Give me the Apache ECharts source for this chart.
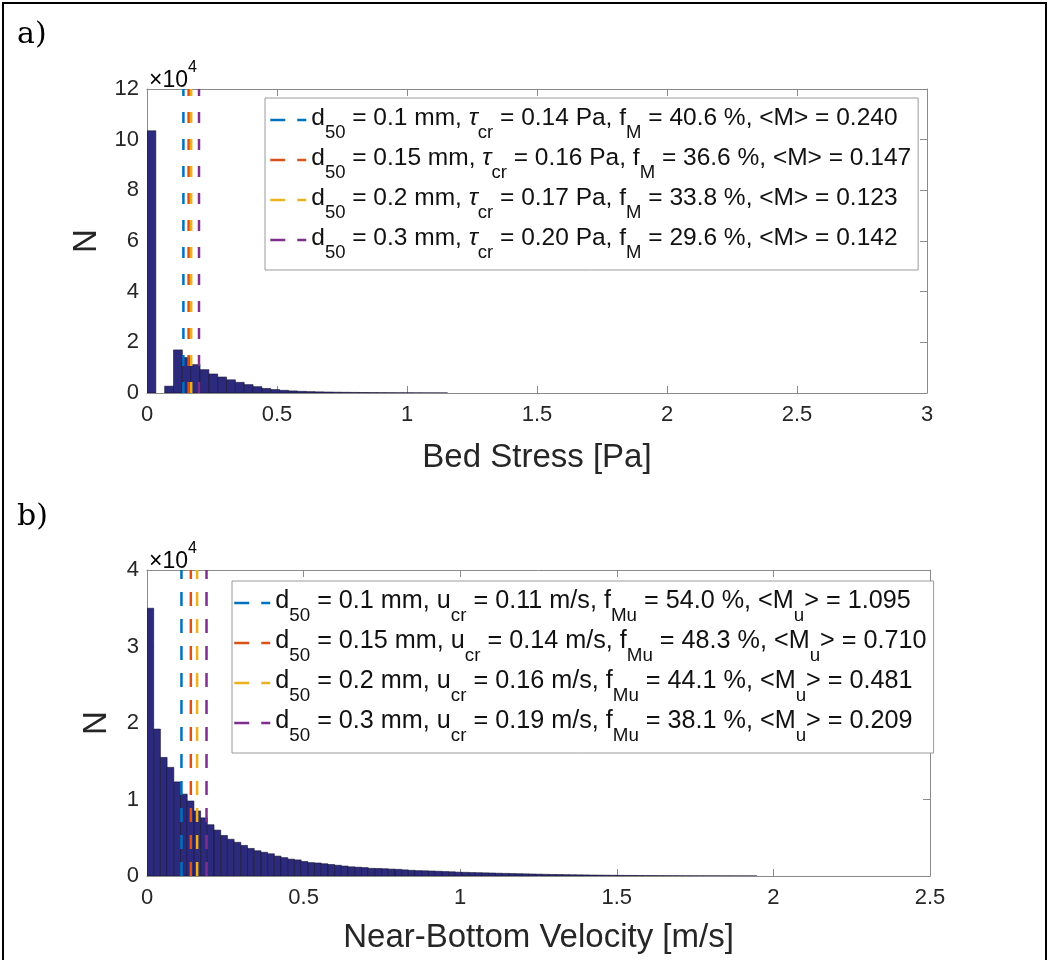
<!DOCTYPE html>
<html>
<head>
<meta charset="utf-8">
<script src="https://cdn.jsdelivr.net/npm/echarts@6/dist/echarts.min.js"></script>
<style>
html,body{margin:0;padding:0;background:#fff;}
#chart{width:1049px;height:960px;}
</style>
</head>
<body>
<div id="chart"></div>
<script>
// ---------------- data ----------------
// a) Bed stress histogram (bin width in Pa, counts per bin starting at 0 Pa)
const stressBinWidth = 0.034;
const stressCounts = [103500, 0, 2700, 17000, 14000, 11200, 9200, 7500, 6300, 5200,
  4200, 3300, 2500, 1800, 1350, 1050, 820, 660, 540, 450,
  380, 320, 270, 230, 190, 160, 130, 110, 90, 75,
  60, 50, 40, 30];
// b) Near-bottom velocity histogram (bin width in m/s, counts per bin starting at 0 m/s)
const velBinWidth = 0.0214;
const velCounts = [35000, 19200, 15500, 14200, 12300, 10700, 9800, 8500, 7600, 6700,
  6000, 5300, 4800, 4400, 4000, 3600, 3300, 3100, 2900, 2600,
  2400, 2200, 2100, 1900, 1750, 1700, 1600, 1500, 1400, 1300,
  1200, 1150, 1100, 1000, 980, 950, 900, 870, 800, 740,
  700, 680, 650, 620, 580, 550, 500, 480, 450, 430,
  410, 390, 360, 340, 320, 300, 280, 260, 240, 220,
  200, 190, 175, 160, 150, 140, 125, 115, 105, 95,
  85, 78, 70, 62, 55, 50, 45, 40, 36, 32,
  28, 25, 22, 20, 18, 16, 14, 12, 10, 9, 8];

// critical thresholds (vertical dashed lines)
const stressThresholds = [0.14, 0.16, 0.17, 0.20];
const velThresholds = [0.11, 0.14, 0.16, 0.19];

// legend entries
const stressLegendNames = [
  'd50 = 0.1 mm, τcr = 0.14 Pa, fM = 40.6 %, <M> = 0.240',
  'd50 = 0.15 mm, τcr = 0.16 Pa, fM = 36.6 %, <M> = 0.147',
  'd50 = 0.2 mm, τcr = 0.17 Pa, fM = 33.8 %, <M> = 0.123',
  'd50 = 0.3 mm, τcr = 0.20 Pa, fM = 29.6 %, <M> = 0.142'
];
const stressLegendRich = [
  '{n|d}{s|50}{n| = 0.1 mm, }{i|τ}{s|cr}{n| = 0.14 Pa, f}{s|M}{n| = 40.6 %, <M> = 0.240}',
  '{n|d}{s|50}{n| = 0.15 mm, }{i|τ}{s|cr}{n| = 0.16 Pa, f}{s|M}{n| = 36.6 %, <M> = 0.147}',
  '{n|d}{s|50}{n| = 0.2 mm, }{i|τ}{s|cr}{n| = 0.17 Pa, f}{s|M}{n| = 33.8 %, <M> = 0.123}',
  '{n|d}{s|50}{n| = 0.3 mm, }{i|τ}{s|cr}{n| = 0.20 Pa, f}{s|M}{n| = 29.6 %, <M> = 0.142}'
];
const velLegendNames = [
  'd50 = 0.1 mm, ucr = 0.11 m/s, fMu = 54.0 %, <Mu> = 1.095',
  'd50 = 0.15 mm, ucr = 0.14 m/s, fMu = 48.3 %, <Mu> = 0.710',
  'd50 = 0.2 mm, ucr = 0.16 m/s, fMu = 44.1 %, <Mu> = 0.481',
  'd50 = 0.3 mm, ucr = 0.19 m/s, fMu = 38.1 %, <Mu> = 0.209'
];
const velLegendRich = [
  '{n|d}{s|50}{n| = 0.1 mm, u}{s|cr}{n| = 0.11 m/s, f}{s|Mu}{n| = 54.0 %, <M}{s|u}{n|> = 1.095}',
  '{n|d}{s|50}{n| = 0.15 mm, u}{s|cr}{n| = 0.14 m/s, f}{s|Mu}{n| = 48.3 %, <M}{s|u}{n|> = 0.710}',
  '{n|d}{s|50}{n| = 0.2 mm, u}{s|cr}{n| = 0.16 m/s, f}{s|Mu}{n| = 44.1 %, <M}{s|u}{n|> = 0.481}',
  '{n|d}{s|50}{n| = 0.3 mm, u}{s|cr}{n| = 0.19 m/s, f}{s|Mu}{n| = 38.1 %, <M}{s|u}{n|> = 0.209}'
];

// axes
const stressXMin = 0, stressXMax = 3, stressXStep = 0.5;
const stressYMin = 0, stressYMax = 120000, stressYStep = 20000;
const velXMin = 0, velXMax = 2.5, velXStep = 0.5;
const velYMin = 0, velYMax = 40000, velYStep = 10000;

// ---------------- styles ----------------
const FONT = 'Liberation Sans, Arial, Helvetica, sans-serif';
const lineColors = ['#0072BD', '#D95319', '#EDB120', '#7E2F8E'];
const barFill = '#2c2a7c';
const axisGray = '#8a8a8a';
const labelColor = '#262626';

function makeRich(size, subSize) {
  return {
    n: {fontSize: size, fontFamily: FONT, color: '#111', lineHeight: 28, verticalAlign: 'top'},
    i: {fontSize: size, fontFamily: FONT, color: '#111', lineHeight: 28, verticalAlign: 'top', fontStyle: 'italic'},
    s: {fontSize: subSize, fontFamily: FONT, color: '#111', lineHeight: 18, padding: [17, 0, 0, 0], verticalAlign: 'top'}
  };
}

function histItem(params, api) {
  const x0 = api.value(0), x1 = api.value(1), y = api.value(2);
  const p0 = api.coord([x0, y]);
  const p1 = api.coord([x1, 0]);
  return {
    type: 'rect',
    shape: {x: p0[0], y: p0[1], width: p1[0] - p0[0], height: p1[1] - p0[1]},
    style: {fill: barFill, stroke: '#141230', lineWidth: 0.6}
  };
}

function binData(counts, width) {
  const out = [];
  counts.forEach((c, i) => { if (c > 0) out.push([i * width, (i + 1) * width, c]); });
  return out;
}

function xAxis(grid, pos, min, max, step, name, showLabel, gap) {
  return {
    type: 'value', gridIndex: grid, position: pos, min: min, max: max, interval: step,
    name: showLabel ? name : '', nameLocation: 'middle', nameGap: gap || 48,
    nameTextStyle: {fontSize: 33, fontFamily: FONT, color: labelColor},
    axisLine: {show: true, onZero: false, lineStyle: {color: axisGray, width: 1}},
    axisTick: {show: true, inside: true, length: 7, lineStyle: {color: axisGray}},
    axisLabel: {show: showLabel, fontSize: 22, fontFamily: FONT, color: labelColor, margin: 11},
    splitLine: {show: false}
  };
}
function yAxis(grid, pos, min, max, step, name, showLabel) {
  return {
    type: 'value', gridIndex: grid, position: pos, min: min, max: max, interval: step,
    name: showLabel ? name : '', nameLocation: 'middle', nameGap: 34, nameRotate: 90,
    nameTextStyle: {fontSize: 33, fontFamily: FONT, color: labelColor},
    axisLine: {show: true, onZero: false, lineStyle: {color: axisGray, width: 1}},
    axisTick: {show: true, inside: true, length: 7, lineStyle: {color: axisGray}},
    axisLabel: {show: showLabel, fontSize: 22, fontFamily: FONT, color: labelColor, margin: 8,
      formatter: v => String(Math.round(v / 10000))},
    splitLine: {show: false}
  };
}

function thresholdSeries(values, names, xIdx, yIdx, yMax, dash) {
  return values.map((t, k) => ({
    type: 'line', name: names[k], xAxisIndex: xIdx, yAxisIndex: yIdx,
    data: [[t, 0], [t, yMax]], symbol: 'none', z: 5, silent: true,
    color: lineColors[k], itemStyle: {color: lineColors[k]},
    lineStyle: {color: lineColors[k], width: 2.5, type: dash}
  }));
}

function legend(names, richTexts, left, top, padding, size, subSize) {
  return {
    orient: 'vertical', left: left, top: top, data: names,
    itemWidth: 36, itemHeight: 14, itemGap: 4, padding: padding,
    borderColor: '#9a9a9a', borderWidth: 1, backgroundColor: '#fff',
    selectedMode: false, z: 10,
    itemStyle: {opacity: 0},
    lineStyle: {type: [15, 12], width: 2.5},
    formatter: name => richTexts[names.indexOf(name)],
    textStyle: {rich: makeRich(size, subSize)}
  };
}

const expRich = {
  a: {fontSize: 23, fontFamily: FONT, color: labelColor, lineHeight: 32, verticalAlign: 'bottom'},
  p: {fontSize: 16, fontFamily: FONT, color: labelColor, lineHeight: 15, verticalAlign: 'top'}
};

const option = {
  animation: false,
  backgroundColor: '#fff',
  grid: [
    {left: 147, top: 89, width: 780, height: 304},
    {left: 147, top: 570, width: 783, height: 306}
  ],
  xAxis: [
    xAxis(0, 'bottom', stressXMin, stressXMax, stressXStep, 'Bed Stress [Pa]', true, 48),
    xAxis(0, 'top', stressXMin, stressXMax, stressXStep, '', false),
    xAxis(1, 'bottom', velXMin, velXMax, velXStep, 'Near-Bottom Velocity [m/s]', true, 45),
    xAxis(1, 'top', velXMin, velXMax, velXStep, '', false)
  ],
  yAxis: [
    yAxis(0, 'left', stressYMin, stressYMax, stressYStep, 'N', true),
    yAxis(0, 'right', stressYMin, stressYMax, stressYStep, '', false),
    yAxis(1, 'left', velYMin, velYMax, velYStep, 'N', true),
    yAxis(1, 'right', velYMin, velYMax, velYStep, '', false)
  ],
  legend: [
    legend(stressLegendNames, stressLegendRich, 265, 98, [8, 7, 8, 4], 24.5, 18.5),
    legend(velLegendNames, velLegendRich, 232, 581, [8, 7, 8, 1], 25.2, 18.8)
  ],
  graphic: [
    {type: 'polyline', silent: true, shape: {points: [[3, 960], [3, 3], [1046, 3], [1046, 960]]},
      style: {stroke: '#000', lineWidth: 2, fill: null}},
    {type: 'text', left: 17, top: 20, silent: true,
      style: {text: 'a)', font: '30px "DejaVu Serif", serif', fill: '#000'}},
    {type: 'text', left: 17, top: 502, silent: true,
      style: {text: 'b)', font: '30px "DejaVu Serif", serif', fill: '#000'}},
    {type: 'text', x: 149, y: 76, silent: true,
      style: {text: '{a|×10}{p|4}', rich: expRich, verticalAlign: 'middle', align: 'left'}},
    {type: 'text', x: 149, y: 557, silent: true,
      style: {text: '{a|×10}{p|4}', rich: expRich, verticalAlign: 'middle', align: 'left'}}
  ],
  series: [
    {type: 'custom', xAxisIndex: 0, yAxisIndex: 0, renderItem: histItem, clip: true, z: 2,
      encode: {x: [0, 1], y: 2}, data: binData(stressCounts, stressBinWidth), silent: true},
    {type: 'custom', xAxisIndex: 2, yAxisIndex: 2, renderItem: histItem, clip: true, z: 2,
      encode: {x: [0, 1], y: 2}, data: binData(velCounts, velBinWidth), silent: true}
  ].concat(
    thresholdSeries(stressThresholds, stressLegendNames, 0, 0, stressYMax, [11, 16]),
    thresholdSeries(velThresholds, velLegendNames, 2, 2, velYMax, [14, 13])
  )
};

const chart = echarts.init(document.getElementById('chart'), null, {renderer: 'canvas'});
chart.setOption(option);
</script>
</body>
</html>
